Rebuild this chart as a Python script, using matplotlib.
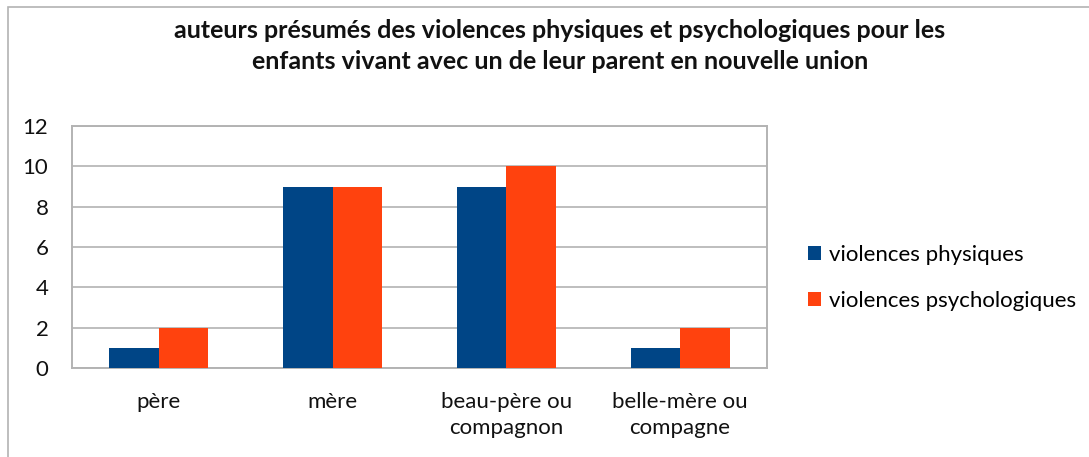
import matplotlib
matplotlib.use("Agg")
import matplotlib.pyplot as plt
from matplotlib.patches import Rectangle
import numpy as np

categories = ["père", "mère", "beau-père ou\ncompagnon", "belle-mère ou\ncompagne"]
physiques = [1, 9, 9, 1]
psychologiques = [2, 9, 10, 2]
series_names = ["violences physiques", "violences psychologiques"]
title = ("auteurs présumés des violences physiques et psychologiques pour les\n"
         "enfants vivant avec un de leur parent en nouvelle union")

BLUE = "#004586"
ORANGE = "#FF420E"
GRID = "#B3B3B3"

plt.rcParams["font.family"] = ["Lato", "DejaVu Sans"]

W, H = 1089, 457
fig = plt.figure(figsize=(W / 100, H / 100), dpi=100)

# outer chart frame (right and bottom edges fall outside the image)
fig.patches.append(Rectangle((8 / W, -0.1), 1.2, 1 - 7 / H + 0.1, transform=fig.transFigure,
                             fill=False, edgecolor=GRID, linewidth=1.2))

left, right, top, bottom = 72, 767, 126, 368
ax = fig.add_axes([left / W, 1 - bottom / H, (right - left) / W, (bottom - top) / H])

x = np.arange(len(categories))
width = 0.285
ax.bar(x - width / 2, physiques, width, color=BLUE, label=series_names[0], zorder=3)
ax.bar(x + width / 2, psychologiques, width, color=ORANGE, label=series_names[1], zorder=3)

ax.set_xlim(-0.5, len(categories) - 0.5)
ax.set_ylim(0, 12)
ax.set_yticks(range(0, 13, 2))
ax.yaxis.grid(True, color=GRID, linewidth=1.2, zorder=0)
ax.set_xticks(x)
ax.set_xticklabels(categories, fontsize=16, color="#111111", linespacing=1.4)
ax.tick_params(axis="y", labelsize=16, length=0, pad=17, labelcolor="#111111")
ax.tick_params(axis="x", length=0, pad=17)
for s in ax.spines.values():
    s.set_color(GRID)
    s.set_linewidth(1.4)

fig.text(560 / W, 1 - 46 / H, title, ha="center", va="center", fontsize=18,
         fontweight="bold", linespacing=1.4, color="#111111")

ax.legend(loc="center left", bbox_to_anchor=(808 / W, 1 - 278 / H), bbox_transform=fig.transFigure,
          frameon=False, fontsize=16, handlelength=0.6, handleheight=0.6,
          handletextpad=0.35, labelspacing=1.15, borderpad=0, borderaxespad=0)

fig.savefig("out.png", dpi=100)
